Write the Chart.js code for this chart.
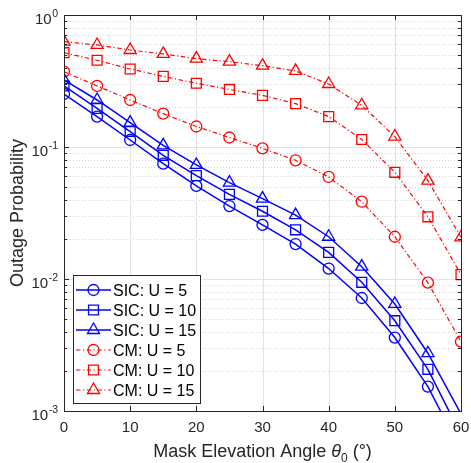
<!DOCTYPE html>
<html>
<head>
<meta charset="utf-8">
<script src="https://cdn.jsdelivr.net/npm/chart.js@4.4.0/dist/chart.umd.min.js"></script>
<style>
  body { margin: 0; background: #fff; }
  canvas { display: block; }
</style>
</head>
<body>
<canvas id="outageChart" width="471" height="463"></canvas>
<script>
// mask elevation angle in degrees
const angles = [0, 5, 10, 15, 20, 25, 30, 35, 40, 45, 50, 55, 60];

const sicU5 = [0.252, 0.170, 0.113, 0.0748, 0.0507, 0.0357, 0.0257, 0.0184, 0.0120, 0.00718, 0.00360, 0.00153, 0.0005];
const sicU10 = [0.290, 0.196, 0.131, 0.0865, 0.0607, 0.0438, 0.0326, 0.0236, 0.0159, 0.00944, 0.00483, 0.00207, 0.00066];
const sicU15 = [0.322, 0.227, 0.153, 0.103, 0.0731, 0.0537, 0.0406, 0.0305, 0.0209, 0.0124, 0.00647, 0.00274, 0.00095];
const cmU5 = [0.372, 0.290, 0.227, 0.179, 0.143, 0.118, 0.0977, 0.0793, 0.0593, 0.0385, 0.0209, 0.00938, 0.00335];
const cmU10 = [0.518, 0.454, 0.390, 0.343, 0.304, 0.273, 0.246, 0.213, 0.170, 0.114, 0.0643, 0.0296, 0.0108];
const cmU15 = [0.628, 0.593, 0.543, 0.507, 0.467, 0.443, 0.413, 0.377, 0.300, 0.207, 0.120, 0.0556, 0.0207];

const seriesLabels = ["SIC: U = 5", "SIC: U = 10", "SIC: U = 15", "CM: U = 5", "CM: U = 10", "CM: U = 15"];
const xTicks = [0, 10, 20, 30, 40, 50, 60];
const yExponents = [-3, -2, -1, 0];

const BLUE = "#0000ff";
const RED = "#ff0000";
const INK = "#262626";
const FONT = '"Liberation Sans", Arial, Helvetica, sans-serif';
const DASH_DOT = [4.5, 2.5, 1.2, 2.5];

function makeSet(label, values, color, style, radius, dashed) {
  return {
    label: label,
    data: angles.map((a, i) => ({ x: a, y: values[i] })),
    borderColor: color,
    borderWidth: dashed ? 1.2 : 1.5,
    borderDash: dashed ? DASH_DOT : [],
    pointStyle: style,
    pointRadius: (ctx) => (ctx.raw && ctx.raw.y < 0.001 ? 0 : radius),
    pointBorderColor: color,
    pointBackgroundColor: "rgba(0,0,0,0)",
    pointBorderWidth: 1.3,
    fill: false,
    tension: 0,
  };
}

// same geometry as Chart.js point styles
function drawMarker(ctx, style, x, y, r) {
  ctx.beginPath();
  if (style === "circle") {
    ctx.arc(x, y, r, 0, Math.PI * 2);
  } else if (style === "rect") {
    const s = Math.SQRT1_2 * r;
    ctx.rect(x - s, y - s, 2 * s, 2 * s);
  } else {
    let a = 0;
    ctx.moveTo(x + Math.sin(a) * r, y - Math.cos(a) * r);
    a += (Math.PI * 2) / 3;
    ctx.lineTo(x + Math.sin(a) * r, y - Math.cos(a) * r);
    a += (Math.PI * 2) / 3;
    ctx.lineTo(x + Math.sin(a) * r, y - Math.cos(a) * r);
    ctx.closePath();
  }
  ctx.stroke();
}

const axesPlugin = {
  id: "matlabAxes",
  beforeDatasetsDraw(chart) {
    const { ctx, chartArea: a } = chart;
    const xs = chart.scales.x;
    const ys = chart.scales.y;
    ctx.save();
    ctx.lineWidth = 1;
    // minor y grid (dotted)
    ctx.strokeStyle = "#d4d4d4";
    ctx.setLineDash([1, 2]);
    yExponents.forEach((e) => {
      if (e === yExponents[yExponents.length - 1]) return;
      for (let m = 2; m <= 9; m++) {
        const py = Math.round(ys.getPixelForValue(m * Math.pow(10, e))) + 0.5;
        ctx.beginPath();
        ctx.moveTo(a.left, py);
        ctx.lineTo(a.right, py);
        ctx.stroke();
      }
    });
    // major grid
    ctx.setLineDash([]);
    ctx.strokeStyle = "#e2e2e2";
    xTicks.forEach((t) => {
      const px = Math.round(xs.getPixelForValue(t)) + 0.5;
      ctx.beginPath();
      ctx.moveTo(px, a.top);
      ctx.lineTo(px, a.bottom);
      ctx.stroke();
    });
    yExponents.forEach((e) => {
      const py = Math.round(ys.getPixelForValue(Math.pow(10, e))) + 0.5;
      ctx.beginPath();
      ctx.moveTo(a.left, py);
      ctx.lineTo(a.right, py);
      ctx.stroke();
    });
    ctx.restore();
  },
  afterDatasetsDraw(chart) {
    const { ctx, chartArea: a } = chart;
    const xs = chart.scales.x;
    const ys = chart.scales.y;
    ctx.save();
    ctx.strokeStyle = INK;
    ctx.lineWidth = 1;
    ctx.strokeRect(Math.round(a.left) + 0.5, Math.round(a.top) + 0.5,
      Math.round(a.right - a.left), Math.round(a.bottom - a.top));

    // inward ticks
    ctx.beginPath();
    xTicks.forEach((t) => {
      const px = Math.round(xs.getPixelForValue(t)) + 0.5;
      ctx.moveTo(px, a.bottom);
      ctx.lineTo(px, a.bottom - 5);
      ctx.moveTo(px, a.top);
      ctx.lineTo(px, a.top + 5);
    });
    yExponents.forEach((e, k) => {
      const py = Math.round(ys.getPixelForValue(Math.pow(10, e))) + 0.5;
      ctx.moveTo(a.left, py);
      ctx.lineTo(a.left + 5, py);
      ctx.moveTo(a.right, py);
      ctx.lineTo(a.right - 5, py);
      if (k === yExponents.length - 1) return;
      for (let m = 2; m <= 9; m++) {
        const qy = Math.round(ys.getPixelForValue(m * Math.pow(10, e))) + 0.5;
        ctx.moveTo(a.left, qy);
        ctx.lineTo(a.left + 3, qy);
        ctx.moveTo(a.right, qy);
        ctx.lineTo(a.right - 3, qy);
      }
    });
    ctx.stroke();

    // tick labels
    ctx.fillStyle = INK;
    ctx.font = "15px " + FONT;
    ctx.textAlign = "center";
    ctx.textBaseline = "alphabetic";
    xTicks.forEach((t) => {
      ctx.fillText(String(t), xs.getPixelForValue(t), a.bottom + 20.5);
    });
    yExponents.forEach((e) => {
      const py = ys.getPixelForValue(Math.pow(10, e));
      const sup = String(e);
      ctx.font = "10.5px " + FONT;
      const supW = ctx.measureText(sup).width;
      ctx.font = "15px " + FONT;
      const baseW = ctx.measureText("10").width;
      const x0 = a.left - 6.5 - supW - baseW;
      ctx.textAlign = "left";
      ctx.fillText("10", x0, py + 9);
      ctx.font = "10.5px " + FONT;
      ctx.fillText(sup, x0 + baseW + 0.5, py + 2);
    });

    // y title
    ctx.save();
    ctx.translate(22.5, (a.top + a.bottom) / 2);
    ctx.rotate(-Math.PI / 2);
    ctx.font = "18px " + FONT;
    ctx.textAlign = "center";
    ctx.fillText("Outage Probability", 0, 0);
    ctx.restore();

    // x title with italic theta and subscript
    const parts = [
      { text: "Mask Elevation Angle ", font: "18px " + FONT, dy: 0 },
      { text: "\u03b8", font: "italic 18px " + FONT, dy: 0 },
      { text: "0", font: "12px " + FONT, dy: 5 },
      { text: " (\u00b0)", font: "18px " + FONT, dy: 0 },
    ];
    let total = 0;
    parts.forEach((p) => {
      ctx.font = p.font;
      p.w = ctx.measureText(p.text).width;
      total += p.w;
    });
    let tx = (a.left + a.right) / 2 - total / 2;
    ctx.textAlign = "left";
    parts.forEach((p) => {
      ctx.font = p.font;
      ctx.fillText(p.text, tx, a.bottom + 45.5 + p.dy);
      tx += p.w;
    });
    ctx.restore();
  },
  afterDraw(chart) {
    const { ctx, chartArea: a } = chart;
    const bx = a.left + 9, by = a.bottom - 136, bw = 127, bh = 128;
    ctx.save();
    ctx.fillStyle = "#fff";
    ctx.fillRect(bx, by, bw, bh);
    ctx.strokeStyle = INK;
    ctx.lineWidth = 1;
    ctx.strokeRect(bx + 0.5, by + 0.5, bw, bh);
    chart.data.datasets.forEach((ds, i) => {
      const cy = by + 15 + i * 20;
      ctx.strokeStyle = ds.borderColor;
      ctx.lineWidth = ds.borderWidth;
      ctx.setLineDash(ds.borderDash);
      ctx.beginPath();
      ctx.moveTo(bx + 3, cy);
      ctx.lineTo(bx + 38, cy);
      ctx.stroke();
      ctx.setLineDash([]);
      ctx.lineWidth = ds.pointBorderWidth;
      drawMarker(ctx, ds.pointStyle, bx + 20.5, cy, ds.markerSize);
      ctx.fillStyle = "#000";
      ctx.font = "16px " + FONT;
      ctx.textAlign = "left";
      ctx.textBaseline = "alphabetic";
      ctx.fillText(ds.label, bx + 40, cy + 6);
    });
    ctx.restore();
  },
};

const datasets = [
  makeSet(seriesLabels[0], sicU5, BLUE, "circle", 5.5, false),
  makeSet(seriesLabels[1], sicU10, BLUE, "rect", 7, false),
  makeSet(seriesLabels[2], sicU15, BLUE, "triangle", 7, false),
  makeSet(seriesLabels[3], cmU5, RED, "circle", 5.5, true),
  makeSet(seriesLabels[4], cmU10, RED, "rect", 7, true),
  makeSet(seriesLabels[5], cmU15, RED, "triangle", 7, true),
];
[5.5, 7, 7, 5.5, 7, 7].forEach((r, i) => { datasets[i].markerSize = r; });

new Chart(document.getElementById("outageChart").getContext("2d"), {
  type: "line",
  data: { datasets: datasets },
  options: {
    responsive: false,
    animation: false,
    events: [],
    layout: { padding: { left: 64, right: 10, top: 15, bottom: 52 } },
    plugins: { legend: { display: false }, tooltip: { enabled: false } },
    scales: {
      x: { type: "linear", min: 0, max: 60, display: false },
      y: { type: "logarithmic", min: 0.001, max: 1, display: false },
    },
  },
  plugins: [axesPlugin],
});
</script>
</body>
</html>
